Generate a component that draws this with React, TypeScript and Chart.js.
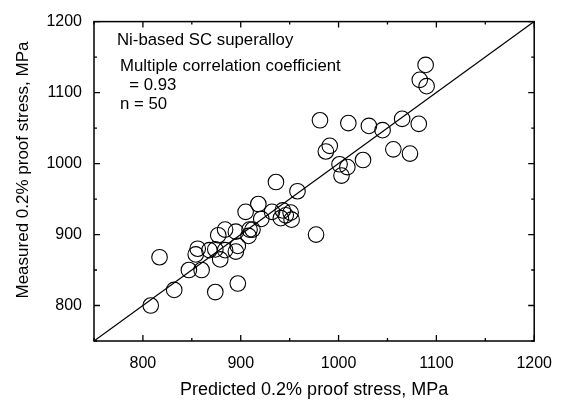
import React, { useEffect, useRef } from 'react';
import { Chart, registerables } from 'chart.js';

Chart.register(...registerables);

const predicted = [
  808, 817, 832, 847, 860, 854, 856, 874, 897, 874,
  879, 877, 884, 884, 895, 895, 897, 908, 909, 905,
  918, 921, 932, 941, 943, 952, 951, 958, 936, 977,
  981, 987, 991, 1001, 1003, 1009, 1010, 1025, 1031, 1045,
  1056, 1065, 1073, 1082, 1083, 1089, 1090, 912, 946, 868,
];
const measured = [
  800, 868, 822, 850, 850, 872, 880, 819, 831, 879,
  865, 899, 907, 878, 904, 876, 884, 898, 907, 932,
  943, 922, 932, 923, 934, 921, 931, 961, 974, 900,
  1061, 1017, 1025, 999, 983, 995, 1057, 1005, 1053, 1047,
  1020, 1063, 1014, 1056, 1118, 1139, 1109, 907, 927, 878,
];
const lineX = [750, 1200];
const lineY = [750, 1200];
const axisMin = 750;
const axisMax = 1200;
const majorTicks = [800, 900, 1000, 1100, 1200];
const minorTicks = [750, 850, 950, 1050, 1150];
const notes = ['Ni-based SC superalloy', 'Multiple correlation coefficient', '  = 0.93', 'n = 50'];
const xTitle = 'Predicted 0.2% proof stress, MPa';
const yTitle = 'Measured 0.2% proof stress, MPa';

const FONT = '"Liberation Sans", Arial, sans-serif';

const framePlugin = {
  id: 'frame',
  afterDraw(chart: any) {
    const { ctx, chartArea: a, scales } = chart;
    const xs = scales.x;
    const ys = scales.y;
    ctx.save();
    ctx.strokeStyle = '#000';
    ctx.lineWidth = 1.5;
    ctx.strokeRect(a.left, a.top, a.right - a.left, a.bottom - a.top);
    ctx.lineWidth = 1.3;
    const drawTicks = (vals: number[], len: number) => {
      vals.forEach((v) => {
        const px = xs.getPixelForValue(v);
        const py = ys.getPixelForValue(v);
        ctx.beginPath();
        ctx.moveTo(px, a.bottom); ctx.lineTo(px, a.bottom - len);
        ctx.moveTo(px, a.top); ctx.lineTo(px, a.top + len);
        ctx.moveTo(a.left, py); ctx.lineTo(a.left + len, py);
        ctx.moveTo(a.right, py); ctx.lineTo(a.right - len, py);
        ctx.stroke();
      });
    };
    drawTicks(majorTicks, 6);
    drawTicks(minorTicks, 3);

    ctx.fillStyle = '#000';
    ctx.textBaseline = 'middle';
    ctx.textAlign = 'left';
    ctx.font = `16.8px ${FONT}`;
    ctx.fillText(notes[0], 117, 40);
    ctx.fillText(notes[1], 120, 66);
    ctx.fillText(notes[2], 120, 85);
    ctx.fillText(notes[3], 120, 104);

    ctx.font = `18px ${FONT}`;
    ctx.textAlign = 'center';
    ctx.fillText(xTitle, (a.left + a.right) / 2, 390);
    ctx.font = `17px ${FONT}`;
    ctx.translate(23, 170);
    ctx.rotate(-Math.PI / 2);
    ctx.fillText(yTitle, 0, 0);
    ctx.restore();
  },
};

export default function App() {
  const ref = useRef<HTMLCanvasElement | null>(null);
  useEffect(() => {
    if (!ref.current) return;
    const chart = new Chart(ref.current, {
      type: 'scatter',
      data: {
        datasets: [
          {
            data: predicted.map((x, i) => ({ x, y: measured[i] })),
            pointRadius: 7.8,
            pointHoverRadius: 7.8,
            pointBorderWidth: 1.1,
            pointBorderColor: '#000',
            pointBackgroundColor: 'rgba(0,0,0,0)',
          },
          {
            type: 'line',
            data: lineX.map((x, i) => ({ x, y: lineY[i] })),
            borderColor: '#000',
            borderWidth: 1.2,
            pointRadius: 0,
            fill: false,
          } as any,
        ],
      },
      options: {
        responsive: false,
        animation: false,
        layout: { padding: { top: 14, right: 30, left: 0, bottom: 0 } },
        plugins: { legend: { display: false }, tooltip: { enabled: false } },
        scales: {
          x: {
            type: 'linear',
            min: axisMin,
            max: axisMax,
            grid: { display: false, drawTicks: false },
            border: { display: false },
            afterBuildTicks: (s: any) => { s.ticks = majorTicks.map((v) => ({ value: v })); },
            afterFit: (s: any) => { s.height = 64; },
            ticks: { color: '#000', font: { family: FONT, size: 16 }, padding: 13, maxRotation: 0, callback: (v: any) => String(v) },
          },
          y: {
            type: 'linear',
            min: axisMin,
            max: axisMax,
            grid: { display: false, drawTicks: false },
            border: { display: false },
            afterBuildTicks: (s: any) => { s.ticks = majorTicks.map((v) => ({ value: v })); },
            afterFit: (s: any) => { s.width = 94; },
            ticks: { color: '#000', font: { family: FONT, size: 16 }, padding: 12, callback: (v: any) => String(v) },
          },
        },
      },
      plugins: [framePlugin],
    });
    return () => chart.destroy();
  }, []);
  return (
    <div style={{ position: 'absolute', left: 0, top: 0, width: 565, height: 405, background: '#fff' }}>
      <canvas ref={ref} width={565} height={405} style={{ display: 'block' }} />
    </div>
  );
}
